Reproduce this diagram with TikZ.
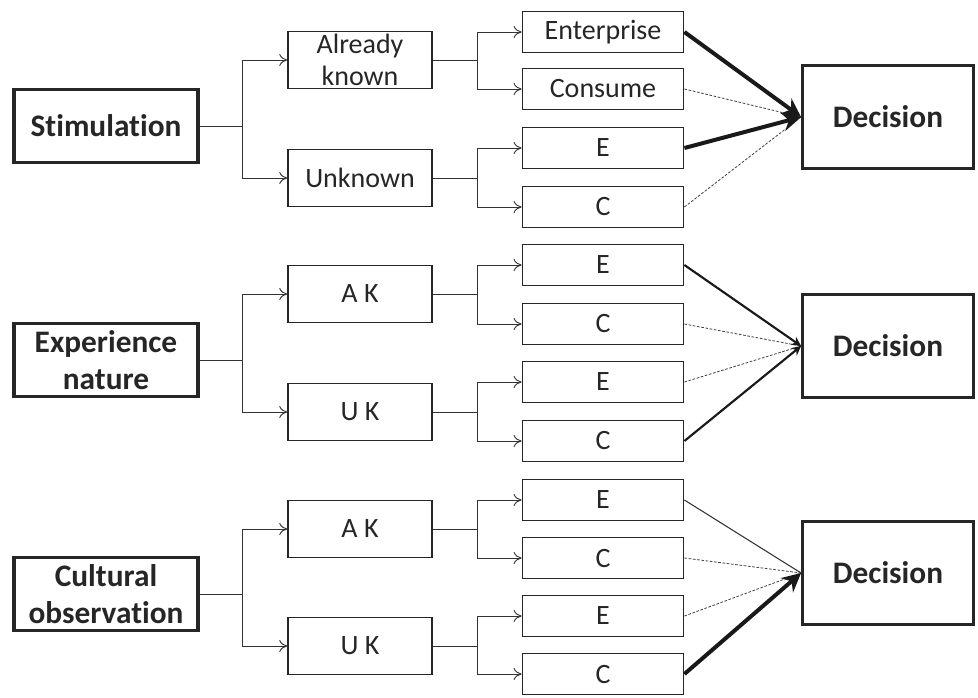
\documentclass[tikz,border=0pt]{standalone}
\usepackage{fontspec}
\setmainfont{Carlito}[Ligatures=NoCommon]
\usetikzlibrary{arrows.meta}
\begin{document}
\begin{tikzpicture}[x=0.75pt,y=-0.75pt,
  every node/.style={text=black!85},
  srcbox/.style={draw=black!85,line width=2.4pt,minimum width=138pt,minimum height=55pt,align=center,font=\bfseries\fontsize{23.5}{28}\selectfont},
  midbox/.style={draw=black!85,line width=1.1pt,minimum width=108pt,minimum height=43pt,inner sep=1pt,align=center,font=\fontsize{21}{24}\selectfont},
  leafbox/.style={draw=black!85,line width=1.1pt,minimum width=121pt,minimum height=31pt,inner sep=1pt,font=\fontsize{21}{20}\selectfont},
  decbox/.style={draw=black!85,line width=2.4pt,minimum width=128pt,minimum height=77pt,font=\bfseries\fontsize{23.5}{28}\selectfont},
  branch/.style={draw=black!80,line width=0.7pt},
  fork/.style={branch,-{To[length=6pt,width=9pt]}},
  strong/.style={draw=black!90,line width=3pt,-{Stealth[length=14pt,width=14pt]}},
  medium/.style={draw=black!90,line width=1.6pt,-{Stealth[length=7pt,width=7pt]}},
  weak/.style={draw=black!80,line width=0.8pt},
  faint/.style={draw=black!75,line width=0.6pt,dash pattern=on 2pt off 1.2pt}]
\useasboundingbox (0,0) rectangle (978,697);

% first row
\node[srcbox] (stim) at (106,126) {Stimulation};
\node[midbox] (ak1) at (360,60) {Already\\known};
\node[midbox] (uk1) at (360,178) {Unknown};
\node[leafbox] (e1) at (603,32) {Enterprise};
\node[leafbox] (c1) at (603,89) {Consume};
\node[leafbox] (e2) at (603,148) {E};
\node[leafbox] (c2) at (603,207) {C};
\node[decbox] (dec1) at (888,117) {Decision};

% second row
\node[srcbox] (expe) at (106,360) {Experience\\nature};
\node[midbox] (ak2) at (360,294) {A K};
\node[midbox] (uk2) at (360,412) {U K};
\node[leafbox] (e3) at (603,265) {E};
\node[leafbox] (c3) at (603,324) {C};
\node[leafbox] (e4) at (603,382) {E};
\node[leafbox] (c4) at (603,441) {C};
\node[decbox] (dec2) at (888,346) {Decision};

% third row
\node[srcbox] (cult) at (106,594) {Cultural\\observation};
\node[midbox] (ak3) at (360,529) {A K};
\node[midbox] (uk3) at (360,646) {U K};
\node[leafbox] (e5) at (603,500) {E};
\node[leafbox] (c5) at (603,558) {C};
\node[leafbox] (e6) at (603,616) {E};
\node[leafbox] (c6) at (603,674) {C};
\node[decbox] (dec3) at (888,573) {Decision};

% forks
\foreach \s/\a/\b in {stim/ak1/uk1,expe/ak2/uk2,cult/ak3/uk3}{
  \draw[branch] (\s.east) -- ++(43,0) coordinate (j\s);
  \draw[fork] (j\s) |- (\a.west);
  \draw[fork] (j\s) |- (\b.west);
}
\foreach \m/\a/\b in {ak1/e1/c1,uk1/e2/c2,ak2/e3/c3,uk2/e4/c4,ak3/e5/c5,uk3/e6/c6}{
  \draw[branch] (\m.east) -- ++(45,0) coordinate (j\m);
  \draw[fork] (j\m) |- (\a.west);
  \draw[fork] (j\m) |- (\b.west);
}

% to the decisions
\draw[faint] (c1.east) -- (dec1.west);
\draw[faint] (c2.east) -- (dec1.west);
\draw[strong] (e1.east) -- (dec1.west);
\draw[strong] (e2.east) -- (dec1.west);

\draw[faint] (c3.east) -- (dec2.west);
\draw[faint] (e4.east) -- (dec2.west);
\draw[medium] (e3.east) -- (dec2.west);
\draw[medium] (c4.east) -- (dec2.west);

\draw[faint] (c5.east) -- (dec3.west);
\draw[faint] (e6.east) -- (dec3.west);
\draw[weak] (e5.east) -- (dec3.west);
\draw[strong] (c6.east) -- (dec3.west);
\end{tikzpicture}
\end{document}
